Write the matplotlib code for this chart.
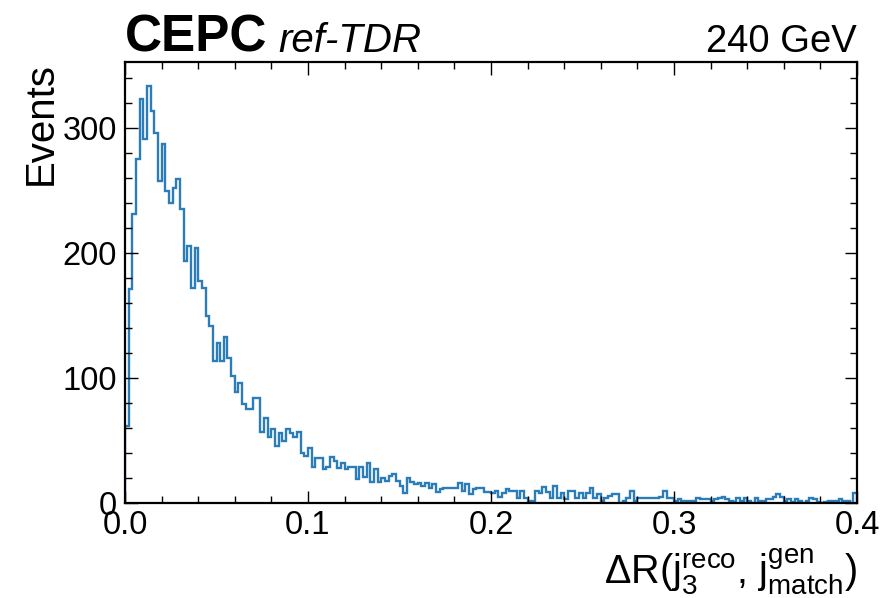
import numpy as np
import matplotlib
matplotlib.use("Agg")
import matplotlib.pyplot as plt
from matplotlib.ticker import MultipleLocator

plt.rcParams['font.family'] = ['Liberation Sans', 'DejaVu Sans']
plt.rcParams['mathtext.fontset'] = 'custom'
plt.rcParams['mathtext.rm'] = 'Liberation Sans'
plt.rcParams['mathtext.it'] = 'Liberation Sans:italic'
plt.rcParams['mathtext.bf'] = 'Liberation Sans:bold'

# ---- data ----
x_min, x_max, n_bins = 0.0, 0.4, 200
counts = [
    62, 171, 231, 275, 323, 291, 334, 314, 296, 258,
    287, 250, 240, 252, 259, 235, 194, 206, 172, 204,
    178, 172, 150, 142, 114, 128, 114, 133, 116, 102,
    89, 96, 79, 75, 75, 84, 84, 57, 68, 53,
    59, 46, 56, 50, 59, 56, 53, 57, 40, 38,
    44, 29, 36, 36, 27, 29, 37, 34, 28, 32,
    27, 29, 29, 19, 29, 21, 32, 17, 27, 17,
    20, 18, 22, 23, 18, 14, 8, 20, 17, 15,
    16, 14, 16, 12, 15, 9, 11, 12, 12, 12,
    12, 16, 10, 15, 7, 11, 12, 12, 9, 9,
    8, 10, 5, 8, 11, 10, 10, 4, 10, 4,
    2, 2, 10, 8, 13, 9, 4, 14, 4, 8,
    3, 10, 10, 4, 8, 4, 8, 12, 4, 7,
    2, 4, 6, 7, 7, 0, 2, 4, 10, 2,
    4, 4, 4, 4, 4, 4, 5, 10, 4, 4,
    2, 3, 2, 2, 2, 2, 4, 3, 3, 3,
    2, 3, 4, 5, 3, 2, 1, 4, 2, 4,
    2, 0, 4, 2, 2, 3, 3, 5, 7, 5,
    2, 3, 1, 3, 2, 0, 2, 4, 3, 1,
    0, 1, 2, 2, 2, 3, 2, 2, 0, 8,
]
x_ticks = [0.0, 0.1, 0.2, 0.3, 0.4]
x_tick_labels = ["0.0", "0.1", "0.2", "0.3", "0.4"]
y_ticks = [0, 100, 200, 300]

edges = np.linspace(x_min, x_max, n_bins + 1)

fig = plt.figure(figsize=(8.85, 5.98), dpi=100)
ax = fig.add_axes([125/885, 1 - 503/598, (857-125)/885, (503-62)/598])

ax.stairs(counts, edges, color='#2a7db8', linewidth=1.7)

ax.set_xlim(x_min, x_max)
ax.set_ylim(0, 353)
ax.set_xticks(x_ticks)
ax.set_xticklabels(x_tick_labels)
ax.set_yticks(y_ticks)
ax.xaxis.set_minor_locator(MultipleLocator(0.02))
ax.yaxis.set_minor_locator(MultipleLocator(20))
ax.tick_params(which='both', direction='in', top=True, right=True, labelsize=23.5)
ax.tick_params(which='major', length=9, width=1)
ax.tick_params(which='minor', length=5, width=1)
ax.tick_params(axis='x', pad=5)
ax.tick_params(axis='y', pad=6)
for s in ax.spines.values():
    s.set_linewidth(1.6)

ax.set_ylabel("Events", fontsize=29, loc='top', labelpad=2)
ax.set_xlabel(r"$\Delta$R(j$_3^{\mathrm{reco}}$, j$_{\mathrm{match}}^{\mathrm{gen}}$)", fontsize=28.5, loc='right', labelpad=4)

fig.text(125/885, 1 - 52/598, "CEPC", fontsize=37, fontweight='bold', ha='left', va='baseline')
fig.text(278/885, 1 - 52/598, "ref-TDR", fontsize=29, fontstyle='italic', ha='left', va='baseline')
fig.text(857/885, 1 - 52/598, "240 GeV", fontsize=27.5, ha='right', va='baseline')

fig.savefig("out.png", dpi=100)
